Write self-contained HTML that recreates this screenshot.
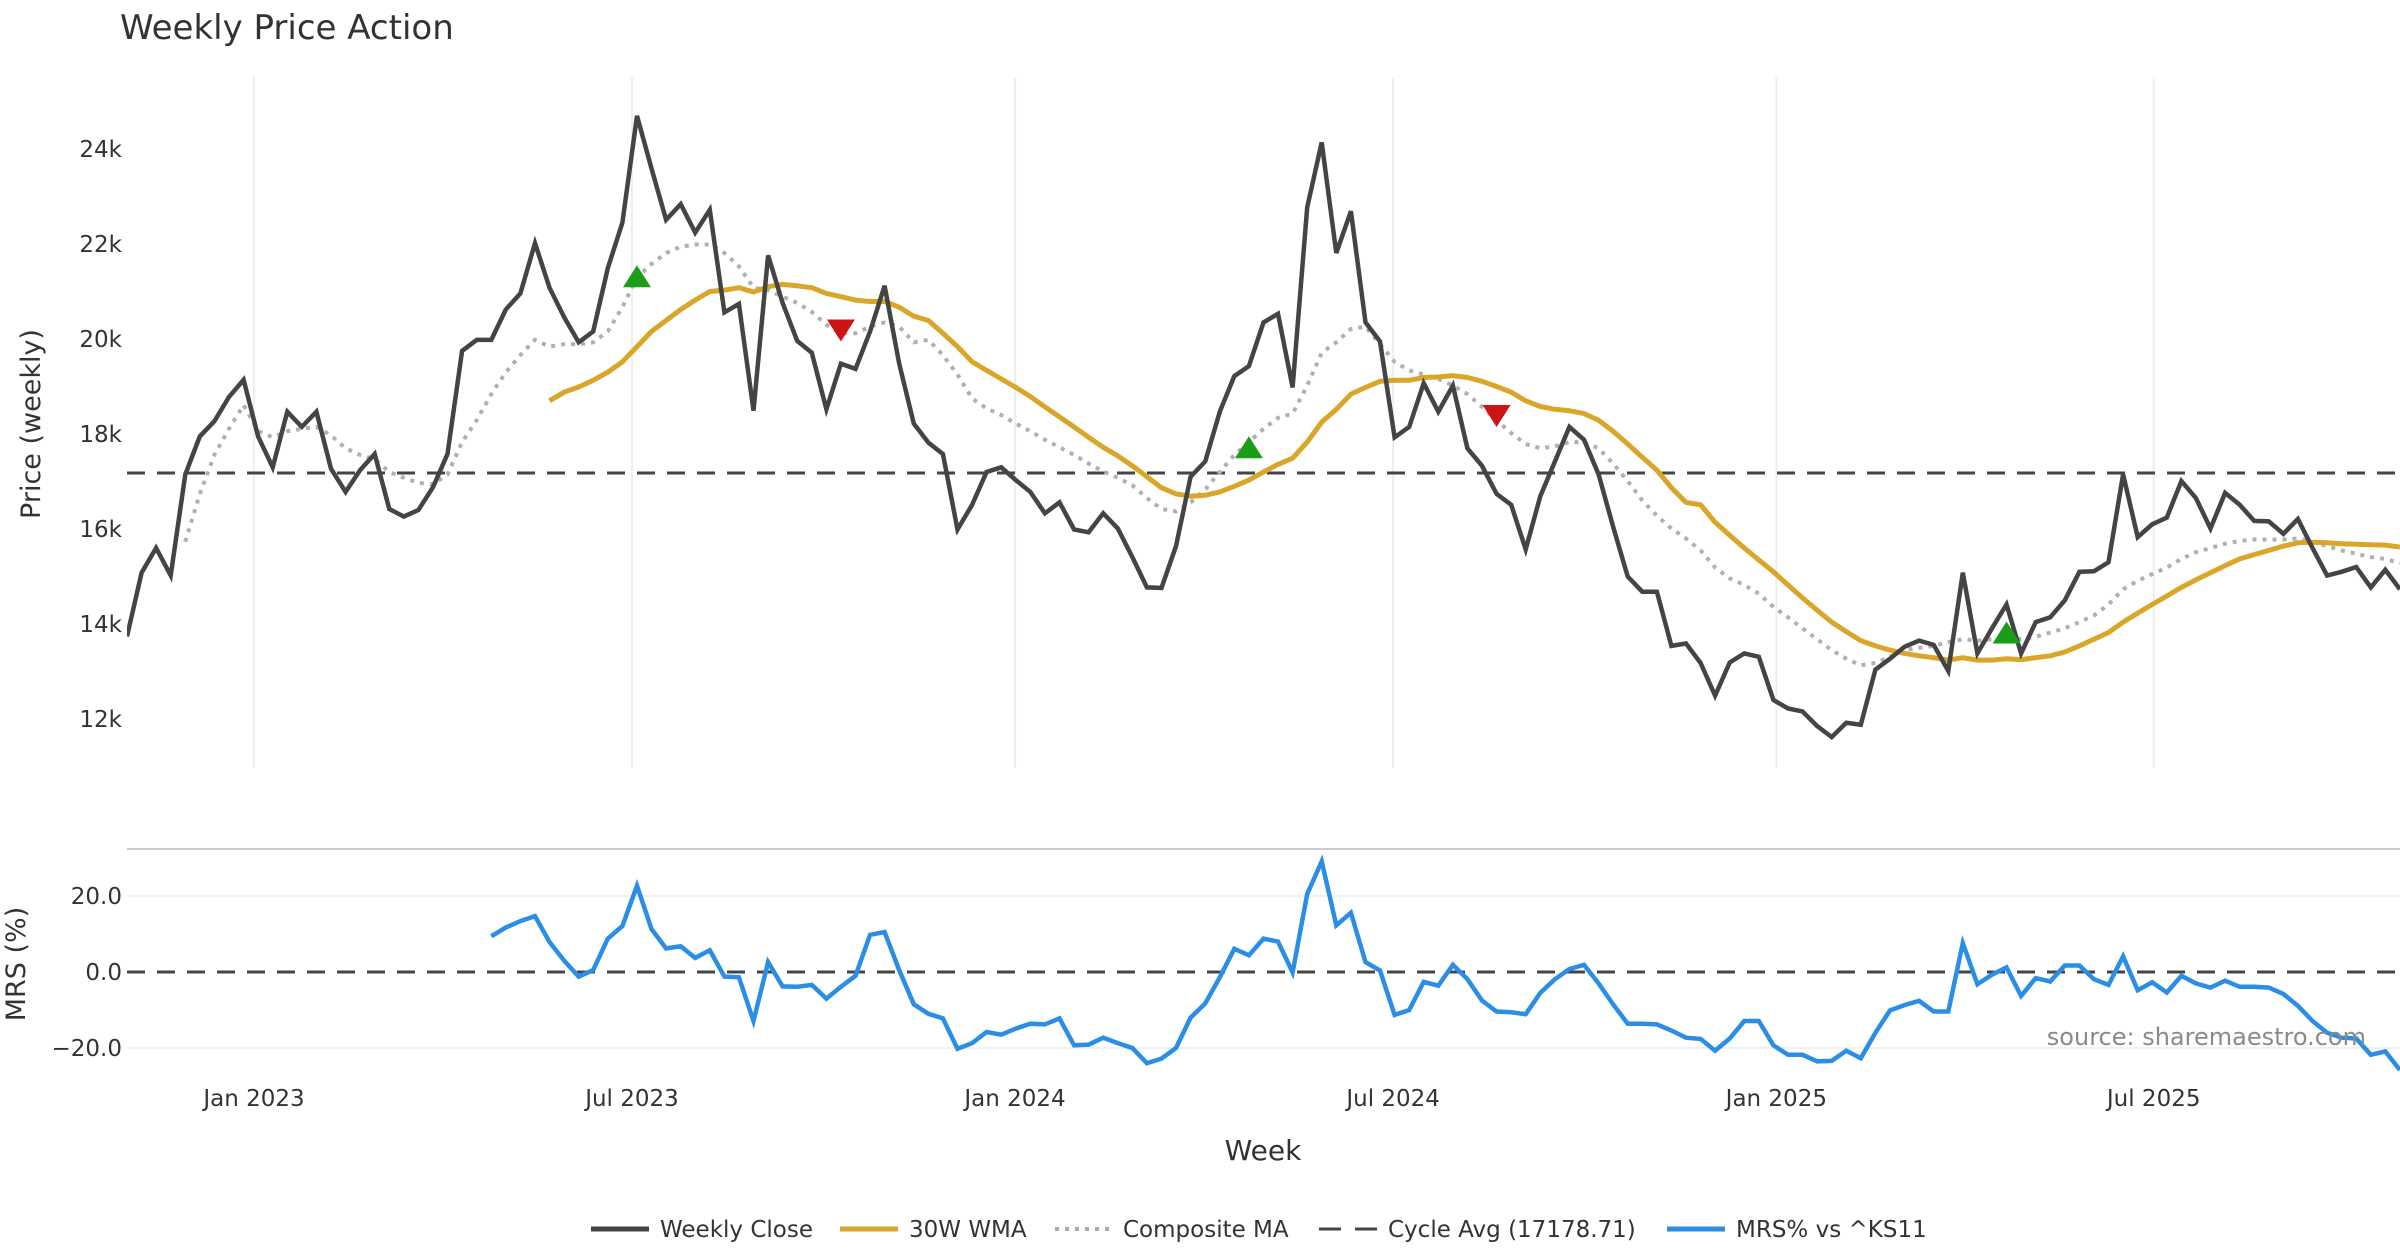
<!DOCTYPE html>
<html><head><meta charset="utf-8"><style>
body{margin:0;background:#fff;}
svg{display:block;font-family:"DejaVu Sans","Liberation Sans",sans-serif;}
</style></head><body>
<svg id="chart" width="2400" height="1260" viewBox="0 0 2400 1260" xmlns="http://www.w3.org/2000/svg">
<rect width="2400" height="1260" fill="#fff"/>
<text x="120" y="39" font-size="34" fill="#333">Weekly Price Action</text>
<text transform="translate(40,424) rotate(-90)" text-anchor="middle" font-size="27" fill="#333">Price (weekly)</text>
<text transform="translate(25,964) rotate(-90)" text-anchor="middle" font-size="27" fill="#333">MRS (%)</text>
<text x="1263" y="1160" text-anchor="middle" font-size="28" fill="#333">Week</text>
<line x1="127" y1="849" x2="2400" y2="849" stroke="#ccc" stroke-width="2"/>
<g id="grid"></g><g id="marks"></g><g id="ticks"></g>
<text x="2366" y="1045" text-anchor="end" font-size="24" fill="#8a8a8a">source: sharemaestro.com</text>
<g id="legend">
<line x1="591" y1="1229" x2="649" y2="1229" stroke="#444" stroke-width="5"/>
<text x="660" y="1237" font-size="23" fill="#333">Weekly Close</text>
<line x1="840" y1="1229" x2="898" y2="1229" stroke="#d9a62a" stroke-width="5"/>
<text x="909" y="1237" font-size="23" fill="#333">30W WMA</text>
<line x1="1055" y1="1229" x2="1113" y2="1229" stroke="#aaa" stroke-width="4" stroke-dasharray="4,6"/>
<text x="1123" y="1237" font-size="23" fill="#333">Composite MA</text>
<line x1="1319" y1="1229" x2="1377" y2="1229" stroke="#444" stroke-width="3" stroke-dasharray="22,14"/>
<text x="1388" y="1237" font-size="23" fill="#333">Cycle Avg (17178.71)</text>
<line x1="1667" y1="1229" x2="1725" y2="1229" stroke="#2b8ee6" stroke-width="5"/>
<text x="1736" y="1237" font-size="23" fill="#333">MRS% vs ^KS11</text>
</g>
</svg>
<script>
const closeVals=[13.74,15.08,15.6,15.02,17.15,17.95,18.27,18.78,19.14,17.95,17.3,18.47,18.15,18.47,17.27,16.78,17.24,17.58,16.42,16.26,16.40,16.88,17.58,19.75,19.98,19.98,20.62,20.96,22.02,21.08,20.46,19.93,20.16,21.49,22.45,24.70,23.59,22.51,22.84,22.24,22.72,20.56,20.74,18.49,21.76,20.76,19.96,19.71,18.52,19.48,19.37,20.16,21.12,19.48,18.22,17.82,17.58,15.99,16.51,17.2,17.30,17.03,16.78,16.33,16.56,15.99,15.93,16.33,16.01,15.41,14.77,14.76,15.64,17.10,17.42,18.47,19.22,19.43,20.35,20.53,18.98,22.77,24.14,21.81,22.69,20.35,19.95,17.93,18.15,19.07,18.47,19.02,17.70,17.33,16.74,16.51,15.57,16.69,17.42,18.15,17.88,17.15,16.05,15.00,14.68,14.68,13.54,13.59,13.18,12.49,13.19,13.38,13.31,12.40,12.22,12.16,11.85,11.62,11.92,11.88,13.04,13.27,13.52,13.65,13.56,13.01,15.08,13.38,13.91,14.41,13.38,14.04,14.14,14.50,15.10,15.11,15.30,17.15,15.83,16.10,16.24,17.01,16.65,16.01,16.76,16.51,16.17,16.16,15.90,16.21,15.60,15.02,15.10,15.20,14.77,15.14,14.73];
const wmaStart=29;
const wmaVals=[18.70,18.88,18.99,19.13,19.3,19.52,19.84,20.16,20.39,20.62,20.82,21.0,21.03,21.08,20.99,21.1,21.15,21.12,21.08,20.96,20.89,20.82,20.79,20.79,20.67,20.48,20.39,20.12,19.84,19.52,19.34,19.16,18.98,18.79,18.57,18.36,18.15,17.93,17.72,17.54,17.33,17.1,16.87,16.74,16.69,16.71,16.78,16.9,17.03,17.2,17.36,17.49,17.83,18.25,18.52,18.84,18.98,19.11,19.13,19.13,19.19,19.2,19.23,19.19,19.11,19.0,18.88,18.7,18.58,18.52,18.49,18.43,18.29,18.06,17.79,17.51,17.24,16.87,16.56,16.51,16.14,15.87,15.6,15.35,15.1,14.82,14.55,14.29,14.04,13.84,13.65,13.54,13.45,13.38,13.33,13.29,13.24,13.29,13.24,13.24,13.27,13.25,13.29,13.33,13.41,13.54,13.68,13.82,14.04,14.23,14.41,14.59,14.77,14.93,15.08,15.23,15.37,15.46,15.55,15.64,15.71,15.72,15.71,15.69,15.68,15.67,15.66,15.62];
const compStart=4;
const compVals=[15.73,16.74,17.56,18.11,18.61,18.06,17.93,18.06,18.11,18.15,17.97,17.7,17.56,17.47,17.2,17.08,16.97,16.94,17.15,17.83,18.29,18.84,19.3,19.66,19.98,19.84,19.89,19.89,19.93,20.16,20.67,21.3,21.58,21.81,21.94,21.99,21.99,21.81,21.53,21.08,21.03,20.89,20.76,20.57,20.3,20.12,20.12,20.26,20.35,20.26,19.93,19.98,19.66,19.25,18.75,18.54,18.4,18.22,18.06,17.88,17.72,17.56,17.38,17.21,17.08,16.92,16.65,16.42,16.37,16.56,16.83,17.2,17.56,17.83,18.11,18.34,18.43,19.02,19.71,19.93,20.21,20.26,19.89,19.52,19.34,19.25,19.16,19.02,18.84,18.57,18.29,18.02,17.79,17.7,17.74,17.83,17.83,17.7,17.38,17.01,16.6,16.28,16.01,15.8,15.55,15.19,14.96,14.82,14.64,14.36,14.14,13.91,13.68,13.45,13.27,13.13,13.18,13.31,13.45,13.5,13.54,13.62,13.68,13.65,13.68,13.71,13.68,13.73,13.82,13.91,14.04,14.18,14.41,14.73,14.91,15.05,15.19,15.37,15.51,15.6,15.69,15.75,15.78,15.78,15.78,15.8,15.73,15.64,15.55,15.48,15.41,15.37,15.28];
const cycleAvg=17.17871;
const buyWeeks=[35,77,129];
const buyLevels=[21.3,17.7,13.8];
const sellWeeks=[49,94];
const sellLevels=[20.2,18.4];
const mrsStart=25;
const mrsVals=[9.4,11.7,13.4,14.7,7.9,3.0,-1.2,0.5,8.8,12.1,22.7,11.3,6.2,6.8,3.7,5.7,-1.2,-1.4,-12.9,2.6,-3.8,-3.9,-3.4,-7.0,-3.9,-1.0,9.8,10.5,0.5,-8.5,-11.0,-12.2,-20.2,-18.7,-15.8,-16.5,-14.9,-13.6,-13.8,-12.2,-19.3,-19.1,-17.3,-18.7,-20.0,-24.0,-22.8,-20.0,-12.0,-8.3,-1.4,6.1,4.4,8.8,8.0,-0.1,20.5,29.1,12.3,15.6,2.6,0.4,-11.3,-10.0,-2.6,-3.6,1.9,-1.9,-7.5,-10.4,-10.6,-11.1,-5.5,-1.9,0.8,1.9,-3.0,-8.5,-13.6,-13.6,-13.8,-15.4,-17.3,-17.6,-20.7,-17.5,-12.9,-12.9,-19.3,-21.8,-21.8,-23.5,-23.4,-20.7,-22.7,-16.0,-10.1,-8.7,-7.6,-10.4,-10.4,7.6,-3.2,-0.7,1.2,-6.3,-1.6,-2.5,1.7,1.7,-1.9,-3.4,4.1,-4.8,-2.7,-5.4,-1.0,-3.0,-4.1,-2.3,-3.9,-3.9,-4.1,-5.8,-8.9,-12.9,-16.0,-17.3,-17.5,-21.8,-20.9,-25.8];
const priceTicks=[12,14,16,18,20,22,24];
const priceTickLabels=["12k","14k","16k","18k","20k","22k","24k"];
const mrsTicks=[20,0,-20];
const mrsTickLabels=["20.0","0.0","\u221220.0"];
const xTickWeeks=[8.72,34.66,60.95,86.9,113.2,139.1];
const xTickLabels=["Jan 2023","Jul 2023","Jan 2024","Jul 2024","Jan 2025","Jul 2025"];

const NS="http://www.w3.org/2000/svg";
const X=w=>127+w*14.57;
const YP=p=>719-(p-12)*47.5;
const YM=v=>972-v*3.8;
function mk(tag,attrs,parent){const e=document.createElementNS(NS,tag);for(const k in attrs)e.setAttribute(k,attrs[k]);document.getElementById(parent).appendChild(e);return e;}
function pts(vals,start,yf){return vals.map((v,i)=>X(start+i).toFixed(1)+","+yf(v).toFixed(1)).join(" ");}

const defs=document.createElementNS(NS,"defs");
defs.innerHTML='<clipPath id="pc"><rect x="127" y="60" width="2273" height="720"/></clipPath><clipPath id="mc"><rect x="127" y="850" width="2273" height="230"/></clipPath>';
document.getElementById("chart").prepend(defs);

xTickWeeks.forEach((w,i)=>{
  const g=mk("line",{x1:X(w),x2:X(w),y1:77,y2:768,stroke:"#eceef2","stroke-width":2},"grid");
  
  
  const t=mk("text",{x:X(w),y:1106,"text-anchor":"middle","font-size":23,fill:"#333"},"ticks");
  t.textContent=xTickLabels[i];
  
  
});
mrsTicks.forEach((v,i)=>{
  if(v!==0){const g=mk("line",{x1:127,x2:2400,y1:YM(v),y2:YM(v),stroke:"#eef0f3","stroke-width":2},"grid");
  
  }
  const t=mk("text",{x:122,y:YM(v)+8,"text-anchor":"end","font-size":23,fill:"#333"},"ticks");
  t.textContent=mrsTickLabels[i];
  
  
});
priceTicks.forEach((p,i)=>{
  const t=mk("text",{x:122,y:YP(p)+8,"text-anchor":"end","font-size":23,fill:"#333"},"ticks");
  t.textContent=priceTickLabels[i];
  
  
});

const ca=mk("line",{x1:127,x2:2400,y1:YP(cycleAvg),y2:YP(cycleAvg),stroke:"#444","stroke-width":3,"stroke-dasharray":"18,12"},"marks");


const cm=mk("polyline",{points:pts(compVals,compStart,YP),fill:"none",stroke:"#b0b0b0","stroke-width":4,"stroke-dasharray":"4,6","clip-path":"url(#pc)"},"marks");


const wm=mk("polyline",{points:pts(wmaVals,wmaStart,YP),fill:"none",stroke:"#d9a62a","stroke-width":5,"clip-path":"url(#pc)","stroke-linejoin":"round"},"marks");


const cl=mk("polyline",{points:pts(closeVals,0,YP),fill:"none",stroke:"#444","stroke-width":4.5,"clip-path":"url(#pc)"},"marks");


buyWeeks.forEach((w,i)=>{const x=X(w),y=YP(buyLevels[i]);
  const t=mk("polygon",{points:`${x-14},${y+10} ${x+14},${y+10} ${x},${y-12}`,fill:"#1a9e1a"},"marks");
  
  });
sellWeeks.forEach((w,i)=>{const x=X(w),y=YP(sellLevels[i]);
  const t=mk("polygon",{points:`${x-14},${y-10} ${x+14},${y-10} ${x},${y+12}`,fill:"#cc1414"},"marks");
  
  });
const z=mk("line",{x1:127,x2:2400,y1:YM(0),y2:YM(0),stroke:"#444","stroke-width":3,"stroke-dasharray":"18,12"},"marks");


const mr=mk("polyline",{points:pts(mrsVals,mrsStart,YM),fill:"none",stroke:"#2b8ee6","stroke-width":4.5,"clip-path":"url(#mc)"},"marks");


</script>
</body></html>
